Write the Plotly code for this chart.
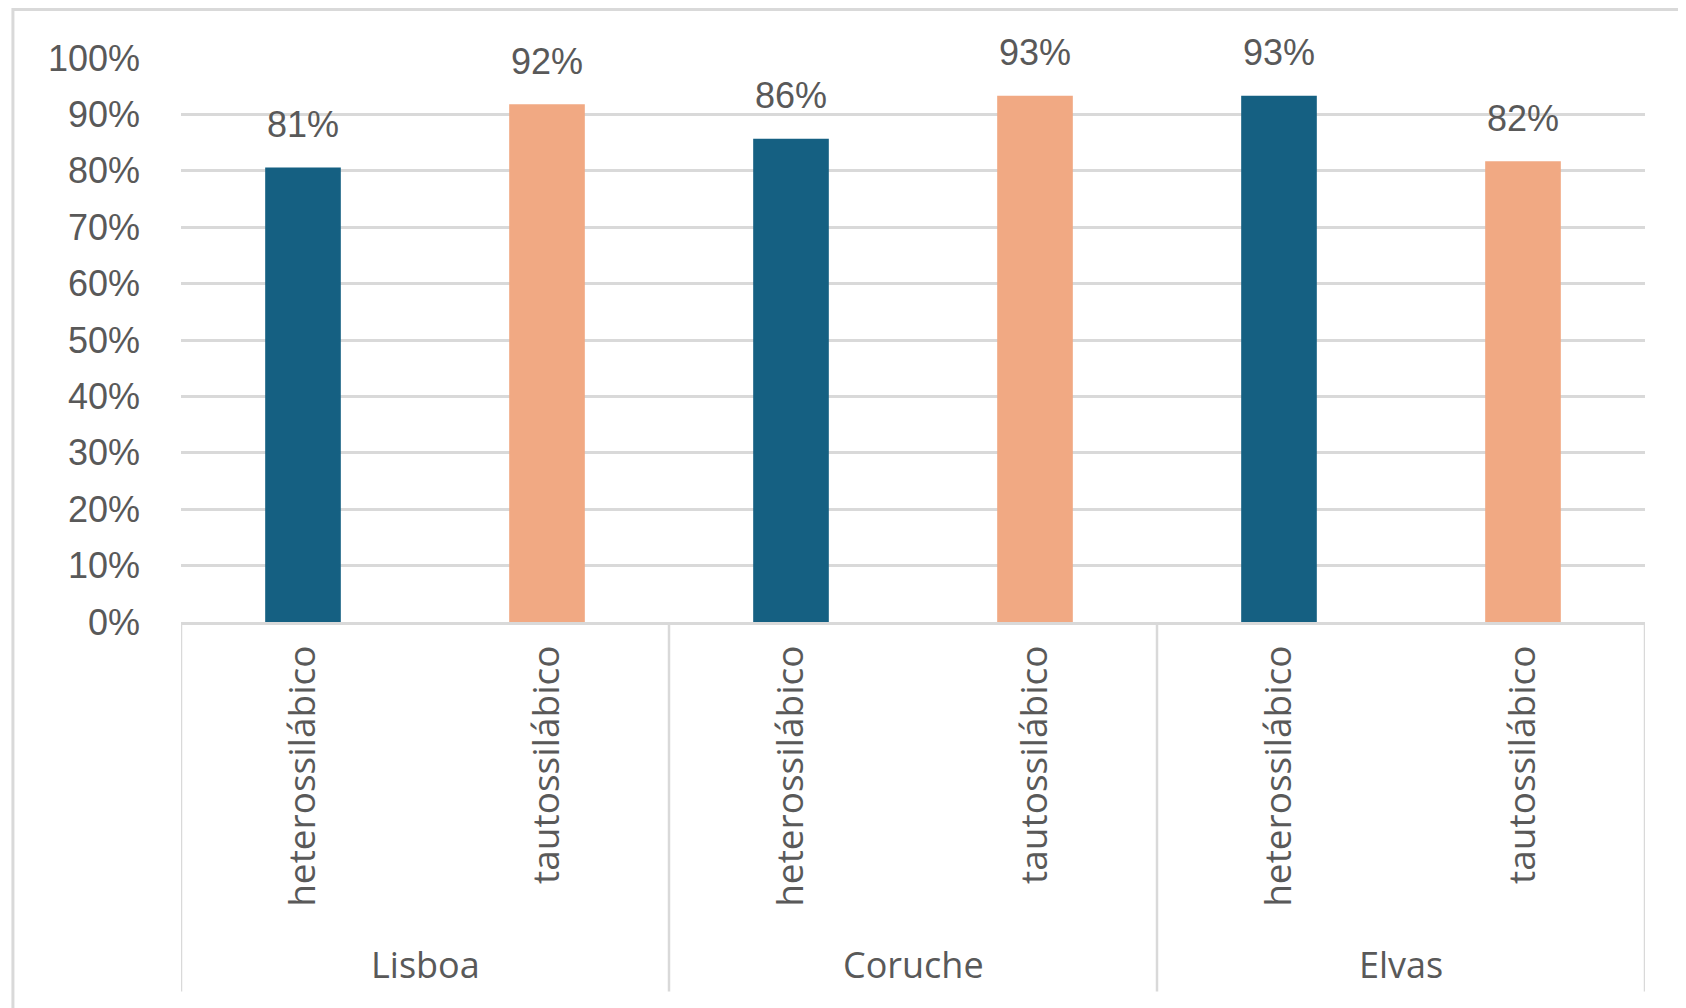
import plotly.graph_objects as go

# ---- data ----
places = ["Lisboa", "Coruche", "Elvas"]
types = ["heterossilábico", "tautossilábico"]
hetero = [0.806, 0.857, 0.933]
tauto = [0.918, 0.933, 0.817]
y_ticks = [0, 0.1, 0.2, 0.3, 0.4, 0.5, 0.6, 0.7, 0.8, 0.9, 1.0]
y_ticktext = ["0%", "10%", "20%", "30%", "40%", "50%", "60%", "70%", "80%", "90%", "100%"]

# ---- styles ----
BLUE = "#156082"
ORANGE = "#F1A983"
GRID = "#d9d9d9"
TXT = "#595959"
YFONT = "Liberation Sans"
XFONT = "Open Sans"

n_t = len(types)
series = [hetero, tauto]
colors = [BLUE, ORANGE]

fig = go.Figure()
annotations = []
for j, (vals, col) in enumerate(zip(series, colors)):
    xs = [i * n_t + j for i in range(len(places))]
    fig.add_trace(go.Bar(
        x=xs, y=vals, width=0.31, marker=dict(color=col, line=dict(width=0)),
        name=types[j], showlegend=False, hoverinfo="y",
    ))
    for x, v in zip(xs, vals):
        annotations.append(dict(
            x=x, y=v, xref="x", yref="y", text=f"{round(v*100)}%",
            showarrow=False, yanchor="middle", yshift=43,
            font=dict(family=YFONT, size=36, color=TXT),
        ))

tickvals = []
ticktext = []
for i in range(len(places)):
    for j in range(n_t):
        tickvals.append(i * n_t + j)
        ticktext.append(types[j])

# group labels
for i, p in enumerate(places):
    annotations.append(dict(
        x=i * n_t + (n_t - 1) / 2, y=-0.607, xref="x", yref="paper",
        text=p, showarrow=False, yanchor="middle",
        font=dict(family=XFONT, size=36, color=TXT),
    ))

shapes = []
# group dividers
for i in range(len(places) + 1):
    shapes.append(dict(
        type="line", xref="x", yref="paper",
        x0=i * n_t - 0.5, x1=i * n_t - 0.5, y0=0, y1=-0.655,
        line=dict(color=GRID, width=2.5),
    ))
# outer chart frame (partially visible)
shapes.append(dict(
    type="path", xref="paper", yref="paper",
    path="M -0.1148,-0.70 L -0.1148,1.086 L 1.05,1.086",
    line=dict(color=GRID, width=3),
))

fig.update_layout(
    width=1678, height=1000,
    margin=dict(l=173, r=41, t=50, b=385.5),
    paper_bgcolor="white", plot_bgcolor="white",
    barmode="overlay",
    annotations=annotations, shapes=shapes,
    xaxis=dict(
        range=[-0.5, len(places) * n_t - 0.5],
        tickmode="array", tickvals=tickvals, ticktext=ticktext,
        tickangle=-90, tickfont=dict(family=XFONT, size=37, color=TXT),
        showgrid=False, zeroline=False, showline=True, linecolor=GRID, linewidth=2.5,
        ticks="", ticklabelstandoff=6,
    ),
    yaxis=dict(
        range=[0, 1.0], tickmode="array", tickvals=y_ticks, ticktext=y_ticktext,
        tickfont=dict(family=YFONT, size=36, color=TXT),
        showgrid=True, gridcolor=GRID, gridwidth=2.5,
        zeroline=False, showline=False, ticks="", ticklabelstandoff=40,
    ),
)

fig.write_html("out.html")
